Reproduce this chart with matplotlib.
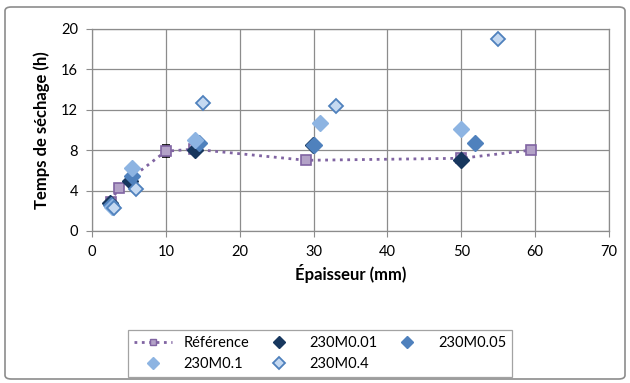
import numpy as np
import matplotlib.pyplot as plt
from matplotlib.patches import FancyBboxPatch
from matplotlib.lines import Line2D

plt.rcParams['font.family'] = ['Lato', 'DejaVu Sans']

# Données
ref_x = [2.6, 3.6, 10, 13.8, 29, 50, 59.4]
ref_y = [2.9, 4.3, 7.9, 8.1, 7.0, 7.2, 8.0]
ref_err = [0.3, 0.2, 0.6, 0.3, 0.2, 0.4, 0.2]

m001_x = [2.5, 5.2, 13.9, 29.9, 50]
m001_y = [2.8, 5.0, 8.0, 8.5, 7.05]

m005_x = [2.6, 5.4, 14.5, 30, 51.9]
m005_y = [2.6, 5.4, 8.75, 8.5, 8.75]

m01_x = [2.7, 5.4, 14.0, 30.9, 50]
m01_y = [2.4, 6.2, 9.0, 10.7, 10.1]

m04_x = [3.0, 5.9, 15.0, 33.0, 55.0]
m04_y = [2.25, 4.2, 12.7, 12.4, 19.05]

xticks = np.arange(0, 71, 10)
yticks = np.arange(0, 21, 4)

fig = plt.figure(figsize=(6.3, 3.83), dpi=100)
ax = fig.add_axes([92 / 630, 1 - 231 / 383, 517 / 630, 202 / 383])

grid_c = '#8c8c8c'
ax.errorbar(ref_x, ref_y, yerr=ref_err, color='#8064a2', ls=':', lw=2,
            marker='s', ms=6.5, mfc='#b3a2c7', mec='#8064a2', mew=1.2,
            ecolor='black', elinewidth=0.8, capsize=3, zorder=3)
h001, = ax.plot(m001_x, m001_y, ls='none', marker='D', ms=8, color='#17375e',
                mec='#17375e', label='230M0.01', zorder=4)
h005, = ax.plot(m005_x, m005_y, ls='none', marker='D', ms=8, color='#4f81bd',
                mec='#4f81bd', label='230M0.05', zorder=5)
h01, = ax.plot(m01_x, m01_y, ls='none', marker='D', ms=8, color='#8db4e2',
               mec='#8db4e2', label='230M0.1', zorder=6)
h04, = ax.plot(m04_x, m04_y, ls='none', marker='D', ms=7.5, color='#c5d9f1',
               mec='#4f81bd', mew=1.3, label='230M0.4', zorder=7)

ax.set_xlim(0, 70)
ax.set_ylim(0, 20)
ax.set_xticks(xticks)
ax.set_yticks(yticks)
ax.grid(True, color=grid_c, lw=0.9)
ax.set_axisbelow(True)
for s in ax.spines.values():
    s.set_color(grid_c)
    s.set_linewidth(0.9)
ax.tick_params(colors=grid_c, labelcolor='black', labelsize=10.5, length=4,
               direction='out')
ax.tick_params(axis='y', pad=6)
ax.tick_params(axis='x', pad=6)

ax.set_xlabel('Épaisseur (mm)', fontsize=12, fontweight='bold', labelpad=4)
ax.set_ylabel('Temps de séchage (h)', fontsize=12, fontweight='bold', labelpad=8)

# légende : ordre ligne par ligne comme dans Excel
href = Line2D([], [], color='#8064a2', ls=':', lw=2, marker='s', ms=6,
              mfc='#b3a2c7', mec='#8064a2', label='Référence')
handles = [href, h01, h001, h04, h005]
leg = fig.legend(handles=handles, labels=[h.get_label() for h in handles],
                 loc='lower left', bbox_to_anchor=(128 / 630, 6 / 383, 384 / 630, 61 / 383),
                 mode='expand', ncol=3, fontsize=10.5, frameon=True, fancybox=False,
                 edgecolor='#8c8c8c', handlelength=2.6, borderaxespad=0,
                 columnspacing=1.0, handletextpad=0.8, markerscale=0.75)
leg.get_frame().set_linewidth(0.9)

border = FancyBboxPatch((5 / 630, 4 / 383), 620 / 630, 372 / 383,
                        boxstyle='round,pad=0,rounding_size=0.01',
                        transform=fig.transFigure, fill=False,
                        edgecolor='#8c8c8c', lw=1.2)
fig.patches.append(border)

fig.savefig('out.png', dpi=100)
